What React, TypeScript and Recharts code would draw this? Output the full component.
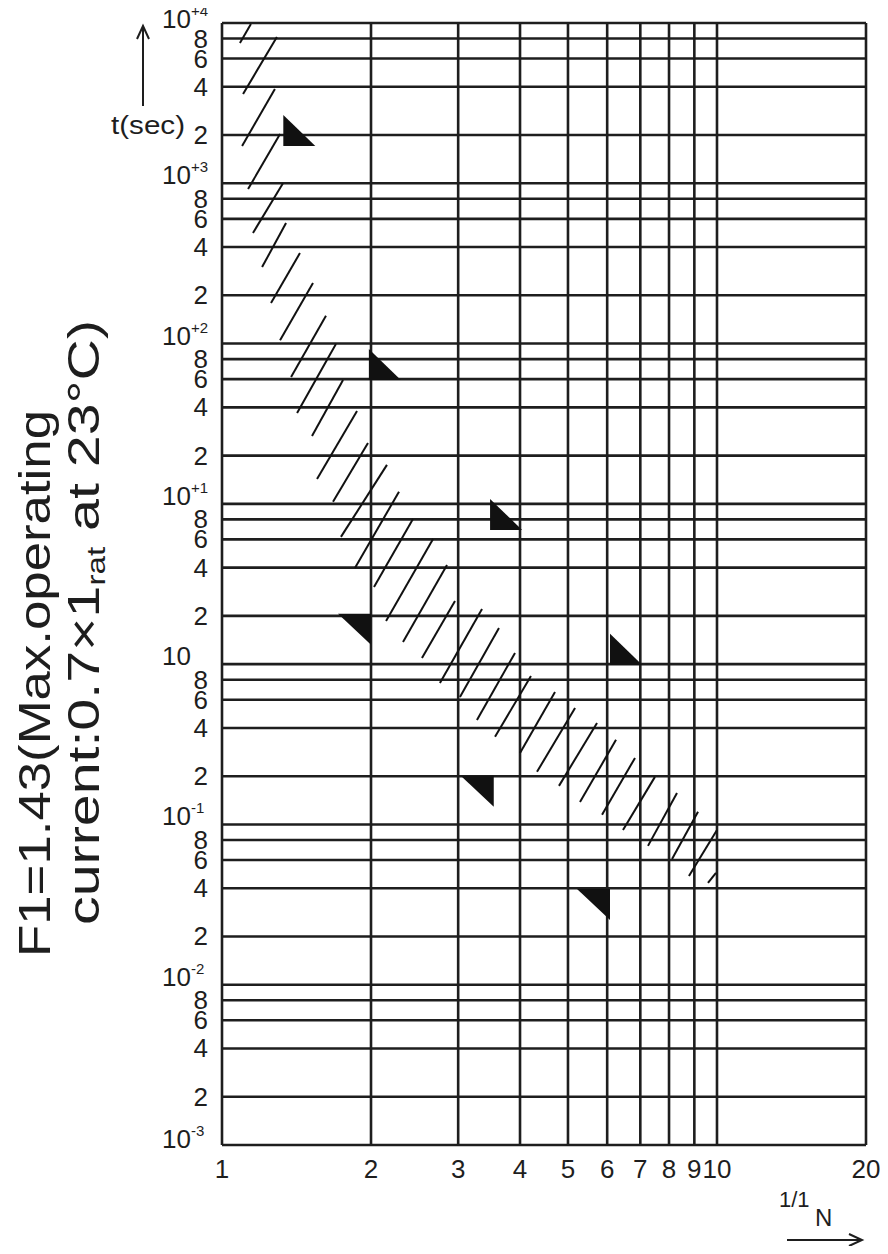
import React from 'react';
import {
  ScatterChart,
  Scatter,
  XAxis,
  YAxis,
  CartesianGrid,
  ReferenceLine,
} from 'recharts';

// axis ticks (log-log grid)
const xTicks = [1, 2, 3, 4, 5, 6, 7, 8, 9, 10, 20];
const xTickLabels = ['1', '2', '3', '4', '5', '6', '7', '8', '9', '10', '20'];

const yTicks = [
  0.001, 0.002, 0.004, 0.006, 0.008,
  0.01, 0.02, 0.04, 0.06, 0.08,
  0.1, 0.2, 0.4, 0.6, 0.8,
  1, 2, 4, 6, 8,
  10, 20, 40, 60, 80,
  100, 200, 400, 600, 800,
  1000, 2000, 4000, 6000, 8000,
  10000,
];
const yTickText = [
  '10', '2', '4', '6', '8',
  '10', '2', '4', '6', '8',
  '10', '2', '4', '6', '8',
  '10', '2', '4', '6', '8',
  '10', '2', '4', '6', '8',
  '10', '2', '4', '6', '8',
  '10', '2', '4', '6', '8',
  '10',
];
const yTickSup = [
  '-3', '', '', '', '',
  '-2', '', '', '', '',
  '-1', '', '', '', '',
  '', '', '', '', '',
  '+1', '', '', '', '',
  '+2', '', '', '', '',
  '+3', '', '', '', '',
  '+4',
];

// hatch strokes of the operating band: lower-left end -> upper-right end
const hatchFrom = [
  { x: 1.087, y: 7500 }, { x: 1.103, y: 3610 }, { x: 1.098, y: 1710 },
  { x: 1.129, y: 921 }, { x: 1.155, y: 490 }, { x: 1.205, y: 300 },
  { x: 1.256, y: 179 }, { x: 1.31, y: 105 }, { x: 1.379, y: 61.9 },
  { x: 1.418, y: 36.9 }, { x: 1.52, y: 26.5 }, { x: 1.556, y: 14.3 },
  { x: 1.676, y: 10.3 }, { x: 1.739, y: 6.22 }, { x: 1.856, y: 3.98 },
  { x: 2.028, y: 3.03 }, { x: 2.145, y: 1.86 }, { x: 2.321, y: 1.375 },
  { x: 2.535, y: 1.093 }, { x: 2.756, y: 0.763 }, { x: 3.025, y: 0.624 },
  { x: 3.274, y: 0.449 }, { x: 3.561, y: 0.352 }, { x: 4.0, y: 0.279 },
  { x: 4.329, y: 0.213 }, { x: 4.795, y: 0.174 }, { x: 5.287, y: 0.138 },
  { x: 5.858, y: 0.115 }, { x: 6.458, y: 0.0924 }, { x: 7.254, y: 0.0735 },
  { x: 8.114, y: 0.0609 }, { x: 8.777, y: 0.0477 }, { x: 9.59, y: 0.0432 },
];
const hatchTo = [
  { x: 1.144, y: 9860 }, { x: 1.291, y: 8180 }, { x: 1.279, y: 3880 },
  { x: 1.31, y: 2030 }, { x: 1.328, y: 1000 }, { x: 1.347, y: 565 },
  { x: 1.437, y: 367 }, { x: 1.527, y: 239 }, { x: 1.622, y: 149 },
  { x: 1.699, y: 99.4 }, { x: 1.756, y: 59.3 }, { x: 1.874, y: 38.0 },
  { x: 1.972, y: 24.0 }, { x: 2.154, y: 17.5 }, { x: 2.278, y: 11.9 },
  { x: 2.431, y: 8.05 }, { x: 2.669, y: 6.04 }, { x: 2.848, y: 4.16 },
  { x: 2.956, y: 2.48 }, { x: 3.352, y: 2.21 }, { x: 3.627, y: 1.68 },
  { x: 3.908, y: 1.175 }, { x: 4.209, y: 0.844 }, { x: 4.707, y: 0.671 },
  { x: 5.167, y: 0.533 }, { x: 5.723, y: 0.43 }, { x: 6.252, y: 0.337 },
  { x: 6.829, y: 0.26 }, { x: 7.493, y: 0.198 }, { x: 8.302, y: 0.157 },
  { x: 9.155, y: 0.12 }, { x: 10.0, y: 0.0924 }, { x: 9.953, y: 0.0498 },
];

// triangle markers (corner point of the right angle)
const upperMarks = [
  { x: 1.33, y: 1710 },
  { x: 1.98, y: 59.3 },
  { x: 3.48, y: 6.87 },
  { x: 6.08, y: 0.99 },
];
const lowerMarks = [
  { x: 2.0, y: 2.06 },
  { x: 3.54, y: 0.201 },
  { x: 6.08, y: 0.0396 },
];

// chart is pulled up by the body margin so it starts at page y = 0 (x stays at 8)
const W = 880;
const H = 1246;
const PLOT_LEFT = 214;
const PLOT_BOTTOM = 1145;
const INK = '#1e1e1e';
const FONT = '"Liberation Sans", Arial, sans-serif';

const YTick = (props: any) => {
  const { y, payload } = props;
  const i = yTicks.indexOf(payload.value);
  if (i < 0) return null;
  const txt = yTickText[i];
  if (txt === '10') {
    // top and bottom decade labels are nudged inside the frame
    const base = i === yTicks.length - 1 ? y + 5 : i === 0 ? y + 3 : y + 1;
    return (
      <text x={PLOT_LEFT - 60} y={base} fontSize={26} fill={INK} fontFamily={FONT}>
        10
        {yTickSup[i] && (
          <tspan fontSize={15} dy={-12}>
            {yTickSup[i]}
          </tspan>
        )}
      </text>
    );
  }
  return (
    <text x={PLOT_LEFT - 14} y={y + 9} fontSize={26} fill={INK} fontFamily={FONT} textAnchor="end">
      {txt}
    </text>
  );
};

const XTick = (props: any) => {
  const { x, payload } = props;
  const i = xTicks.indexOf(payload.value);
  return (
    <text x={x} y={PLOT_BOTTOM + 33} fontSize={26} fill={INK} fontFamily={FONT} textAnchor="middle">
      {xTickLabels[i]}
    </text>
  );
};

const UpperTri = (props: any) => {
  const { cx, cy } = props;
  return <polygon points={`${cx},${cy - 31} ${cx},${cy} ${cx + 32},${cy}`} fill="#111" />;
};

const LowerTri = (props: any) => {
  const { cx, cy } = props;
  return <polygon points={`${cx - 33},${cy} ${cx},${cy} ${cx},${cy + 31}`} fill="#111" />;
};

export default function App() {
  return (
    <div style={{ position: 'relative', width: W, height: H, marginTop: -8, background: '#fff' }}>
      <ScatterChart width={W} height={H} margin={{ top: 23, right: 22, left: 154, bottom: 71 }}>
        <CartesianGrid stroke={INK} strokeWidth={2.6} />
        <XAxis
          type="number"
          dataKey="x"
          scale="log"
          domain={[1, 20]}
          ticks={xTicks}
          interval={0}
          allowDataOverflow
          axisLine={false}
          tickLine={false}
          height={30}
          tick={<XTick />}
        />
        <YAxis
          type="number"
          dataKey="y"
          scale="log"
          domain={[0.001, 10000]}
          ticks={yTicks}
          interval={0}
          allowDataOverflow
          axisLine={false}
          tickLine={false}
          width={60}
          tick={<YTick />}
        />
        {hatchFrom.map((p, i) => (
          <ReferenceLine
            key={`h-${i}`}
            segment={[p, hatchTo[i]]}
            stroke="#111"
            strokeWidth={2}
            ifOverflow="visible"
          />
        ))}
        <Scatter data={upperMarks} shape={<UpperTri />} isAnimationActive={false} />
        <Scatter data={lowerMarks} shape={<LowerTri />} isAnimationActive={false} />
      </ScatterChart>

      <svg
        width={W}
        height={H}
        style={{ position: 'absolute', left: 0, top: 0, pointerEvents: 'none' }}
        fontFamily={FONT}
      >
        <text
          x={42}
          y={957}
          fontSize={45}
          fill={INK}
          transform="rotate(-90, 42, 957)"
          textLength={547}
          lengthAdjust="spacingAndGlyphs"
        >
          F1=1.43(Max.operating
        </text>
        <text
          x={91}
          y={925}
          fontSize={45}
          fill={INK}
          transform="rotate(-90, 91, 925)"
          textLength={605}
          lengthAdjust="spacingAndGlyphs"
        >
          current:0.7×1<tspan fontSize={26} dy={6}>rat</tspan>
          <tspan dy={-6}> at 23°C)</tspan>
        </text>

        <text x={103} y={134} fontSize={26} fill={INK} textLength={74} lengthAdjust="spacingAndGlyphs">
          t(sec)
        </text>
        <line x1={135} y1={106} x2={135} y2={26} stroke={INK} strokeWidth={2} />
        <polyline points="129,39 135,26 141,39" fill="none" stroke={INK} strokeWidth={2} />

        <text x={771} y={1207} fontSize={22} fill={INK}>
          1/1
        </text>
        <text x={807} y={1226} fontSize={24} fill={INK}>
          N
        </text>
        <line x1={779} y1={1240} x2={854} y2={1240} stroke={INK} strokeWidth={2} />
        <polyline points="841,1234 854,1240 841,1246" fill="none" stroke={INK} strokeWidth={2} />
      </svg>
    </div>
  );
}
